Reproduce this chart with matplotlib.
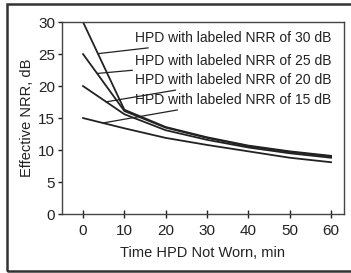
import numpy as np
import matplotlib
matplotlib.use("Agg")
import matplotlib.pyplot as plt
from matplotlib.patches import Rectangle

plt.rcParams['font.family'] = ['Liberation Sans', 'DejaVu Sans']

# data
time_min = [0, 10, 20, 30, 40, 50, 60]
nrr_30 = [30, 16.3, 13.6, 12.0, 10.7, 9.8, 9.1]
nrr_25 = [25, 16.1, 13.5, 11.9, 10.6, 9.7, 9.0]
nrr_20 = [20, 15.6, 13.1, 11.6, 10.4, 9.5, 8.8]
nrr_15 = [15, 13.4, 11.9, 10.8, 9.8, 8.8, 8.1]
labels = ["HPD with labeled NRR of 30 dB",
          "HPD with labeled NRR of 25 dB",
          "HPD with labeled NRR of 20 dB",
          "HPD with labeled NRR of 15 dB"]
label_y = [27.5, 23.9, 20.9, 17.8]
point_x = [3.6, 3.4, 5.6, 4.8]

fig = plt.figure(figsize=(3.51, 2.73), dpi=100)
ax = fig.add_axes([0.1766, 0.216, 0.803, 0.703])

col = '#222222'
series = [nrr_30, nrr_25, nrr_20, nrr_15]
for s in series:
    ax.plot(time_min, s, color=col, lw=1.3)

# labels with leader lines
for s, lab, ly, px in zip(series, labels, label_y, point_x):
    py = np.interp(px, time_min, s)
    ax.annotate(lab, xy=(px, py), xytext=(12.6, ly), fontsize=10, color=col,
                va='center', ha='left',
                arrowprops=dict(arrowstyle='-', color=col, lw=0.9,
                                shrinkA=0, shrinkB=0))

ax.set_xlim(-5.1, 63.1)
ax.set_ylim(0, 30)
ax.set_xticks([0, 10, 20, 30, 40, 50, 60])
ax.set_yticks([0, 5, 10, 15, 20, 25, 30])
ax.tick_params(axis='x', direction='inout', length=6, width=1, labelsize=11, colors=col, pad=4)
ax.tick_params(axis='y', direction='out', length=3, width=1, labelsize=11, colors=col, pad=2)
for sp in ax.spines.values():
    sp.set_color('#444444')
    sp.set_linewidth(1)

ax.set_xlabel("Time HPD Not Worn, min", fontsize=10.5, color=col, labelpad=6)
ax.set_ylabel("Effective NRR, dB", fontsize=10.5, color=col, labelpad=3)

# outer frame around the figure
fig.patches.append(Rectangle((0.02, 0.008), 1.0, 0.977, transform=fig.transFigure,
                             fill=False, edgecolor='#333333', lw=1.8))

fig.savefig("out.png", dpi=100)
